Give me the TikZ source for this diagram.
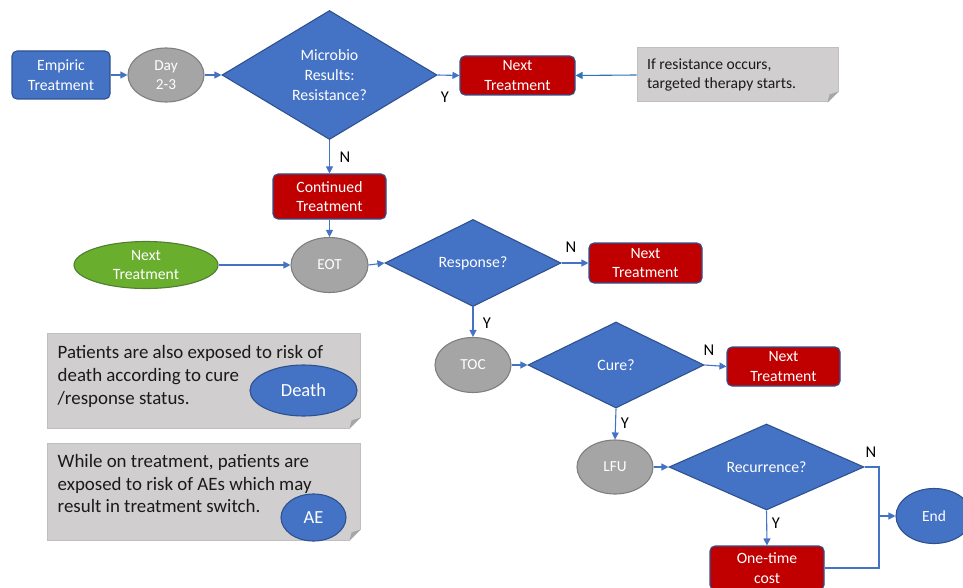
\documentclass[tikz,border=0pt]{standalone}
\usepackage{fontspec}
\setmainfont{Carlito}
\usetikzlibrary{shapes.geometric,arrows.meta}
\definecolor{bfill}{HTML}{4472C4}
\definecolor{bline}{HTML}{2F528F}
\definecolor{rfill}{HTML}{C00000}
\definecolor{gfill}{HTML}{A5A5A5}
\definecolor{gline}{HTML}{7F7F7F}
\definecolor{grfill}{HTML}{6AAE2E}
\definecolor{grline}{HTML}{507E32}
\definecolor{nfill}{HTML}{D0CECE}
\definecolor{nline}{HTML}{BFBFBF}
\definecolor{nfold}{HTML}{A6A6A6}
\definecolor{cline}{HTML}{4472C4}
\definecolor{aline}{HTML}{2E75B6}
\definecolor{ntext}{HTML}{1A1A1A}
\begin{document}
\begin{tikzpicture}[x=1pt,y=-1pt,
  base/.style={inner sep=0pt, font=\fontsize{15.7}{19.5}\selectfont, text=white, align=center, line width=1.1pt},
  rbox/.style={base, rectangle, draw=bline, rounded corners=5pt},
  bluebox/.style={rbox, fill=bfill},
  redbox/.style={rbox, fill=rfill},
  grayell/.style={base, ellipse, fill=gfill, draw=gline, font=\fontsize{15.3}{19}\selectfont},
  blueell/.style={base, ellipse, fill=bfill, draw=bline},
  decision/.style={base, diamond, fill=bfill, draw=bline, font=\fontsize{15.8}{20}\selectfont},
  note/.style={rectangle, fill=nfill, draw=nline, line width=1pt, inner sep=0pt},
  notetext/.style={text=ntext, align=left, inner sep=0pt, anchor=base west},
  conn/.style={draw=cline, line width=1.1pt, -{Triangle[length=7pt,width=7pt]}},
  plain/.style={draw=cline, line width=1.1pt},
  yn/.style={font=\fontsize{16.5}{18}\selectfont, text=black, inner sep=0pt},
]
\useasboundingbox (0,0) rectangle (963,588);

% top row
\node[bluebox, minimum width=98, minimum height=48] (emp) at (61,75) {Empiric\\Treatment};
\node[grayell, minimum width=76, minimum height=54] (day) at (166,75) {Day\\2-3};
\node[decision, minimum width=215, minimum height=129, shape aspect=1.67] (mic) at (329.5,75) {Microbio\\Results:\\Resistance?};
\node[redbox, minimum width=115, minimum height=39] (nt1) at (517.5,75.5) {Next\\Treatment};
\node[note, minimum width=201, minimum height=54] (n1) at (737.5,75) {};
\node[notetext, font=\fontsize{15.6}{19.5}\selectfont] (n1t) at (647,89) {If resistance occurs,\\targeted therapy starts.};

% middle
\node[redbox, minimum width=113, minimum height=45] (cont) at (329.5,196.5) {Continued\\Treatment};
\node[base, ellipse, fill=grfill, draw=grline, minimum width=144, minimum height=47] (grn) at (146,265) {Next\\Treatment};
\node[grayell, minimum width=77, minimum height=55] (eot) at (329.5,265) {EOT};
\node[decision, minimum width=176, minimum height=87, shape aspect=2] (resp) at (473,263) {Response?};
\node[redbox, minimum width=113, minimum height=40] (nt2) at (645.5,263) {Next\\Treatment};
\node[grayell, minimum width=76, minimum height=55] (toc) at (473,365) {TOC};
\node[decision, minimum width=176, minimum height=86, shape aspect=2] (cure) at (616,365) {Cure?};
\node[redbox, minimum width=113, minimum height=39] (nt3) at (783.5,366.5) {Next\\Treatment};
\node[grayell, minimum width=76, minimum height=54] (lfu) at (615,467) {LFU};
\node[decision, minimum width=195, minimum height=86, shape aspect=2.2] (rec) at (766.5,467) {Recurrence?};
\node[blueell, minimum width=76, minimum height=55, font=\fontsize{15.5}{19}\selectfont] (end) at (934,516) {End};
\node[redbox, minimum width=114, minimum height=44] (otc) at (767,568) {One-time\\cost};
\coordinate (jn) at (879,516);

% notes bottom-left
\node[note, minimum width=313, minimum height=95] (n2) at (203.5,380.5) {};
\node[notetext, font=\fontsize{18.9}{23}\selectfont] (n2t) at (57.5,404.5) {Patients are also exposed to risk of\\death according to cure\\/response status.};
\node[note, minimum width=313, minimum height=97] (n3) at (203.5,491.5) {};
\node[notetext, font=\fontsize{18.9}{22.5}\selectfont] (n3t) at (57.5,512.5) {While on treatment, patients are\\exposed to risk of AEs which may\\result in treatment switch.};

% folded corners
\foreach \n in {n1,n2,n3}{
  \fill[white] ([xshift=0.6pt,yshift=-0.6pt]\n.south east) -- ([xshift=-11pt,yshift=-0.6pt]\n.south east) -- ([xshift=0.6pt,yshift=11pt]\n.south east) -- cycle;
  \fill[nfold] ([xshift=-11pt]\n.south east) -- ([yshift=11pt]\n.south east) -- ([xshift=-9pt,yshift=8pt]\n.south east) -- cycle;
}

\node[blueell, minimum width=107, minimum height=51, font=\fontsize{18.5}{22}\selectfont] (death) at (303.5,390.5) {Death};
\node[blueell, minimum width=65, minimum height=47, font=\fontsize{18.5}{22}\selectfont] (ae) at (313.5,517.5) {AE};

% connectors
\draw[conn] (emp.east) -- (day.west);
\draw[conn] (day.east) -- (mic.west);
\draw[conn] (mic.east) -- (nt1.west);
\draw[conn, draw=aline] (n1.west) -- (nt1.east);
\draw[conn] (mic.south) -- (cont.north);
\draw[conn] (cont.south) -- (eot.north);
\draw[conn] (grn.east) -- (eot.west);
\draw[conn] (eot.east) -- (resp.west);
\draw[conn] (resp.east) -- (nt2.west);
\draw[conn] (resp.south) -- (toc.north);
\draw[conn] (toc.east) -- (cure.west);
\draw[conn] (cure.east) -- (nt3.west);
\draw[conn] (cure.south) -- (lfu.north);
\draw[conn] (lfu.east) -- (rec.west);
\draw[conn] (rec.south) -- (otc.north);
\draw[plain] (rec.east) -| (jn);
\draw[plain] (otc.east) -| (jn);
\draw[conn] (jn) -- (end.west);

% Y / N labels
\node[yn] (l1) at (445,97) {Y};
\node[yn] (l2) at (345,157) {N};
\node[yn] (l3) at (571,247) {N};
\node[yn] (l4) at (487,323) {Y};
\node[yn] (l5) at (709,350) {N};
\node[yn] (l6) at (625,423) {Y};
\node[yn] (l7) at (871,452) {N};
\node[yn] (l8) at (776,523) {Y};
\end{tikzpicture}
\end{document}
